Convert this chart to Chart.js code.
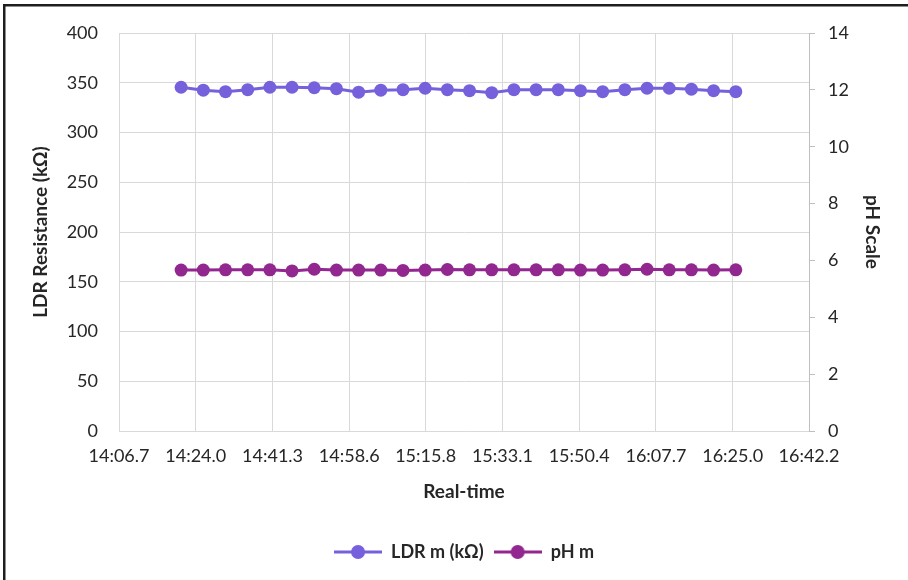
<!DOCTYPE html>
<html>
<head>
<meta charset="utf-8">
<script src="https://cdn.jsdelivr.net/npm/chart.js@4.4.1/dist/chart.umd.min.js"></script>
<style>
  html, body { margin: 0; padding: 0; background: #fff; overflow: hidden; }
  #wrap { width: 908px; height: 580px; }
</style>
</head>
<body>
<div id="wrap"><canvas id="chartId" width="908" height="580"></canvas></div>
<script>
// real-time readings (mm:ss.s)
let times = ['14:20.7', '14:25.7', '14:30.7', '14:35.7', '14:40.7', '14:45.7', '14:50.7', '14:55.7',
  '15:00.7', '15:05.7', '15:10.7', '15:15.7', '15:20.7', '15:25.7', '15:30.7', '15:35.7', '15:40.7',
  '15:45.7', '15:50.7', '15:55.7', '16:00.7', '16:05.7', '16:10.7', '16:15.7', '16:20.7', '16:25.7'];
let ldrValues = [345.5, 342.5, 341, 343, 345.5, 345.5, 345, 344, 340.5, 342.5, 343, 344.5, 343,
  342, 340, 343, 343, 343, 342, 341, 343, 344.5, 344.5, 343.5, 342, 341];
let phValues = [5.66, 5.66, 5.67, 5.67, 5.67, 5.63, 5.69, 5.66, 5.66, 5.66, 5.65, 5.66, 5.68,
  5.67, 5.67, 5.67, 5.67, 5.67, 5.66, 5.66, 5.67, 5.69, 5.67, 5.67, 5.66, 5.67];
let xTickLabels = ['14:06.7', '14:24.0', '14:41.3', '14:58.6', '15:15.8', '15:33.1', '15:50.4', '16:07.7', '16:25.0', '16:42.2'];

const ldrColor = '#7660DB';
const phColor = '#92278F';
const textColor = '#262626';
const fontName = 'Lato, "Open Sans", sans-serif';

function toSeconds(s) {
  let parts = s.split(':');
  return parseInt(parts[0]) * 60 + parseFloat(parts[1]);
}

let xTickValues = xTickLabels.map(toSeconds);

// legend marker: a short line with a dot on it
function makeMarker(color) {
  let c = document.createElement('canvas');
  c.width = 48;
  c.height = 16;
  let g = c.getContext('2d');
  g.strokeStyle = color;
  g.lineWidth = 3;
  g.beginPath();
  g.moveTo(0, 8);
  g.lineTo(48, 8);
  g.stroke();
  g.fillStyle = color;
  g.beginPath();
  g.arc(24, 8, 7, 0, Math.PI * 2);
  g.fill();
  return c;
}
let markers = [makeMarker(ldrColor), makeMarker(phColor)];

const frame = {
  id: 'frame',
  beforeDraw(chart) {
    const ctx = chart.ctx;
    ctx.save();
    ctx.fillStyle = '#fff';
    ctx.fillRect(0, 0, chart.width, chart.height);
    ctx.strokeStyle = '#1e1e1e';
    ctx.lineWidth = 2.5;
    ctx.strokeRect(4.25, 5.25, 960, 640);
    ctx.restore();
  }
};

new Chart(document.getElementById('chartId').getContext('2d'), {
  type: 'line',
  data: {
    datasets: [{
      label: 'LDR m (kΩ)',
      data: times.map((t, i) => ({ x: toSeconds(t), y: ldrValues[i] })),
      borderColor: ldrColor,
      backgroundColor: ldrColor,
      borderWidth: 3,
      pointRadius: 6.5,
      pointBorderWidth: 0,
      yAxisID: 'y',
    }, {
      label: 'pH m',
      data: times.map((t, i) => ({ x: toSeconds(t), y: phValues[i] })),
      borderColor: phColor,
      backgroundColor: phColor,
      borderWidth: 3,
      pointRadius: 6.5,
      pointBorderWidth: 0,
      yAxisID: 'y2',
    }],
  },
  options: {
    responsive: false,
    animation: false,
    layout: {
      padding: { left: 25, right: 20, top: 33, bottom: 9 }
    },
    plugins: {
      tooltip: { enabled: false },
      legend: {
        position: 'bottom',
        fullSize: false,
        labels: {
          usePointStyle: true,
          pointStyleWidth: 48,
          padding: 10,
          color: textColor,
          font: { family: fontName, size: 18, weight: 'bold' },
          generateLabels: function(chart) {
            let items = Chart.defaults.plugins.legend.labels.generateLabels(chart);
            items.forEach((it, i) => { it.pointStyle = markers[i]; });
            return items;
          }
        }
      }
    },
    scales: {
      x: {
        type: 'linear',
        min: xTickValues[0],
        max: xTickValues[xTickValues.length - 1],
        afterBuildTicks: function(scale) {
          scale.ticks = xTickValues.map(v => ({ value: v }));
        },
        afterFit: function(scale) {
          scale.height = 102;
        },
        ticks: {
          autoSkip: false,
          maxRotation: 0,
          padding: 14,
          color: textColor,
          font: { family: fontName, size: 18 },
          callback: function(value, index) {
            return xTickLabels[index];
          }
        },
        grid: { color: '#d9d9d9', drawTicks: false },
        border: { color: '#d9d9d9' },
        title: {
          display: true,
          text: 'Real-time',
          color: textColor,
          font: { family: fontName, size: 19, weight: 'bold' },
          padding: { top: 4, bottom: 30 }
        }
      },
      y: {
        position: 'left',
        min: 0,
        max: 400,
        afterFit: function(scale) {
          scale.width = 94;
        },
        ticks: {
          stepSize: 50,
          padding: 21,
          color: textColor,
          font: { family: fontName, size: 18 }
        },
        grid: { color: '#d9d9d9', drawTicks: false },
        border: { color: '#d9d9d9' },
        title: {
          display: true,
          text: 'LDR Resistance (kΩ)',
          color: textColor,
          font: { family: fontName, size: 19, weight: 'bold' },
          padding: { top: 4, bottom: 4 }
        }
      },
      y2: {
        position: 'right',
        min: 0,
        max: 14,
        afterFit: function(scale) {
          scale.width = 79;
        },
        ticks: {
          stepSize: 2,
          padding: 13,
          color: textColor,
          font: { family: fontName, size: 18 }
        },
        grid: { drawOnChartArea: false, drawTicks: true, tickLength: 6, color: '#bfbfbf' },
        border: { color: '#bfbfbf' },
        title: {
          display: true,
          text: 'pH Scale',
          color: textColor,
          font: { family: fontName, size: 19, weight: 'bold' },
          padding: { top: 4, bottom: 4 }
        }
      }
    }
  },
  plugins: [frame]
});
</script>
</body>
</html>
